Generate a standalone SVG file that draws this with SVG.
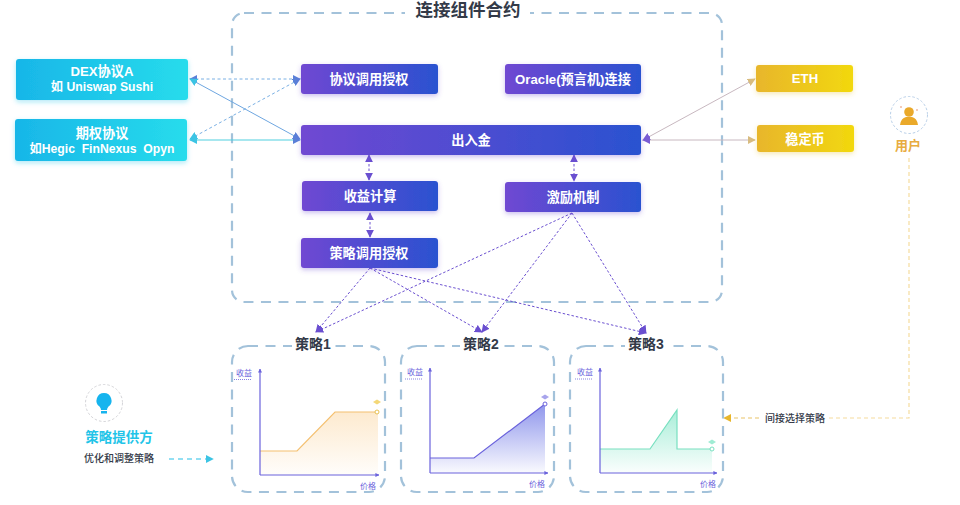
<svg xmlns="http://www.w3.org/2000/svg" width="960" height="505" viewBox="0 0 960 505">
<defs>
<linearGradient id="gp" x1="0" x2="1" y1="0" y2="0"><stop offset="0" stop-color="#7048d2"/><stop offset="1" stop-color="#2a52d0"/></linearGradient>
<linearGradient id="gc" x1="0" x2="1" y1="0" y2="0"><stop offset="0" stop-color="#18b6e8"/><stop offset="1" stop-color="#27dcec"/></linearGradient>
<linearGradient id="gy" x1="0" x2="1" y1="0" y2="0"><stop offset="0" stop-color="#e8b62c"/><stop offset="1" stop-color="#f2d80e"/></linearGradient>
<linearGradient id="fo" x1="0" x2="0" y1="0" y2="1"><stop offset="0" stop-color="#fbd9a8" stop-opacity=".55"/><stop offset="1" stop-color="#fbd9a8" stop-opacity=".05"/></linearGradient>
<linearGradient id="fb" x1="0" x2="0" y1="0" y2="1"><stop offset="0" stop-color="#8f96ec"/><stop offset="1" stop-color="#8f96ec" stop-opacity=".05"/></linearGradient>
<linearGradient id="fg" x1="0" x2="0" y1="0" y2="1"><stop offset="0" stop-color="#8ce8cc" stop-opacity=".75"/><stop offset="1" stop-color="#8ce8cc" stop-opacity=".04"/></linearGradient>
<filter id="sp" x="-10%" y="-30%" width="120%" height="170%"><feDropShadow dx="0" dy="2" stdDeviation="2.500" flood-color="#6a4cd0" flood-opacity=".35"/></filter>
<filter id="sc" x="-10%" y="-30%" width="120%" height="170%"><feDropShadow dx="0" dy="2" stdDeviation="2.500" flood-color="#20c0e8" flood-opacity=".35"/></filter>
<filter id="sy" x="-10%" y="-30%" width="120%" height="170%"><feDropShadow dx="0" dy="2" stdDeviation="2.500" flood-color="#e8c030" flood-opacity=".35"/></filter>
<marker id="mp" viewBox="0 0 10 10" refX="9" refY="5" markerWidth="8" markerHeight="8" markerUnits="userSpaceOnUse" orient="auto-start-reverse"><path d="M0 0L10 5L0 10z" fill="#6a4fd0"/></marker>
<marker id="mb" viewBox="0 0 10 10" refX="9" refY="5" markerWidth="8" markerHeight="8" markerUnits="userSpaceOnUse" orient="auto-start-reverse"><path d="M0 0L10 5L0 10z" fill="#5a80d8"/></marker>
<marker id="mt" viewBox="0 0 10 10" refX="9" refY="5" markerWidth="8" markerHeight="8" markerUnits="userSpaceOnUse" orient="auto-start-reverse"><path d="M0 0L10 5L0 10z" fill="#3cc4e4"/></marker>
<marker id="mo" viewBox="0 0 10 10" refX="9" refY="5" markerWidth="8" markerHeight="8" markerUnits="userSpaceOnUse" orient="auto-start-reverse"><path d="M0 0L10 5L0 10z" fill="#d8bc80"/></marker>
<marker id="mv" viewBox="0 0 10 10" refX="9" refY="5" markerWidth="8" markerHeight="8" markerUnits="userSpaceOnUse" orient="auto-start-reverse"><path d="M0 0L10 5L0 10z" fill="#7a5cd4"/></marker>
<marker id="my" viewBox="0 0 10 10" refX="9" refY="5" markerWidth="8" markerHeight="8" markerUnits="userSpaceOnUse" orient="auto-start-reverse"><path d="M0 0L10 5L0 10z" fill="#e8b62c"/></marker>
<marker id="ma" viewBox="0 0 10 10" refX="9" refY="5" markerWidth="4" markerHeight="4" markerUnits="userSpaceOnUse" orient="auto"><path d="M0 0L10 5L0 10z" fill="#6a62dc"/></marker>
</defs>
<style>
text{font-family:"Liberation Sans","Noto Sans CJK SC",sans-serif;white-space:pre}
.w{fill:#fff;font-weight:700;text-anchor:middle;font-size:13.2px}
.w2{fill:#fff;font-weight:700;text-anchor:middle;font-size:12.2px}
.fr{fill:none;stroke:#a3c2da;stroke-width:2.200;stroke-dasharray:10 7.500}
.t{fill:#333a48;font-weight:700;text-anchor:middle;font-size:14px}
.ax{fill:none;stroke:#6a62dc;stroke-width:1.200;marker-end:url(#ma)}
.lb{fill:#6a62dc;font-size:8px;text-anchor:middle}
.sm{fill:#333a48;font-size:10px;font-weight:500;text-anchor:middle}
.d{fill:none;stroke:#6a4fd0;stroke-width:1;stroke-dasharray:2.500 2}
</style>
<g id="frame-main">
<rect class="fr" x="232" y="13" width="490" height="289" rx="12"/>
<rect x="405" y="0" width="125" height="24" fill="#fff"/>
<text x="468" y="16" text-anchor="middle" font-size="17.500" font-weight="700" fill="#333a48">连接组件合约</text>
</g>
<g id="connectors">
<path d="M190 79H300" fill="none" stroke="#7ab0e4" stroke-width="1" stroke-dasharray="3 2.500" marker-start="url(#mb)" marker-end="url(#mb)"/>
<path d="M190 139L300 79" fill="none" stroke="#7ab0e4" stroke-width="1" stroke-dasharray="3 2.500" marker-start="url(#mt)" marker-end="url(#mb)"/>
<path d="M190 79L300 139" fill="none" stroke="#6ea6e0" stroke-width="1" marker-start="url(#mt)" marker-end="url(#mb)"/>
<path d="M190 140H300" fill="none" stroke="#50cfe0" stroke-width="1.200" marker-start="url(#mt)" marker-end="url(#mb)"/>
<path d="M643 140L755 79" fill="none" stroke="#c8b8c0" stroke-width="1" marker-start="url(#mv)" marker-end="url(#mo)"/>
<path d="M643 140H755" fill="none" stroke="#c8b8c0" stroke-width="1" marker-start="url(#mv)" marker-end="url(#mo)"/>
<path class="d" d="M369 155V180" marker-start="url(#mp)" marker-end="url(#mp)"/>
<path class="d" d="M574 155V181" marker-start="url(#mp)" marker-end="url(#mp)"/>
<path class="d" d="M370 213V237" marker-start="url(#mp)" marker-end="url(#mp)"/>
<path class="d" d="M370 268L316 332" marker-end="url(#mp)"/>
<path class="d" d="M370 268L482 332" marker-end="url(#mp)"/>
<path class="d" d="M370 268L646 333" marker-end="url(#mp)"/>
<path class="d" d="M572 213L316 332" marker-end="url(#mp)"/>
<path class="d" d="M572 213L482 332" marker-end="url(#mp)"/>
<path class="d" d="M572 213L646 333" marker-end="url(#mp)"/>
<path d="M169 459H213" fill="none" stroke="#26c0e8" stroke-width="1.200" stroke-dasharray="5 4" marker-end="url(#mt)"/>
<path d="M909 158V418H827" fill="none" stroke="#f5dc9e" stroke-width="1.200" stroke-dasharray="4 3"/>
<path d="M759 418H724" fill="none" stroke="#eac468" stroke-width="1.200" stroke-dasharray="4 3" marker-end="url(#my)"/>
</g>
<g id="dex"><rect x="16" y="59" width="172" height="41" rx="3" fill="url(#gc)" filter="url(#sc)"/><text class="w" x="102" y="76">DEX协议A</text><text class="w2" x="102" y="91">如 Uniswap Sushi</text></g>
<g id="options"><rect x="15" y="119" width="172" height="42" rx="3" fill="url(#gc)" filter="url(#sc)"/><text class="w" x="102" y="138">期权协议</text><text class="w2" x="102" y="153">如Hegic  FinNexus  Opyn</text></g>
<g id="auth"><rect x="301" y="64" width="137" height="30" rx="3" fill="url(#gp)" filter="url(#sp)"/><text class="w" x="369" y="84">协议调用授权</text></g>
<g id="oracle"><rect x="505" y="64" width="136" height="30" rx="3" fill="url(#gp)" filter="url(#sp)"/><text class="w" x="573" y="84">Oracle(预言机)连接</text></g>
<g id="inout"><rect x="301" y="125" width="340" height="30" rx="3" fill="url(#gp)" filter="url(#sp)"/><text class="w" x="471" y="145">出入金</text></g>
<g id="yield"><rect x="302" y="181" width="136" height="30" rx="3" fill="url(#gp)" filter="url(#sp)"/><text class="w" x="370" y="201">收益计算</text></g>
<g id="incentive"><rect x="505" y="182" width="136" height="30" rx="3" fill="url(#gp)" filter="url(#sp)"/><text class="w" x="573" y="202">激励机制</text></g>
<g id="strategy-auth"><rect x="301" y="238" width="137" height="30" rx="3" fill="url(#gp)" filter="url(#sp)"/><text class="w" x="369" y="258">策略调用授权</text></g>
<g id="eth"><rect x="756" y="65" width="97" height="27" rx="3" fill="url(#gy)" filter="url(#sy)"/><text class="w" x="805" y="83">ETH</text></g>
<g id="stable"><rect x="757" y="125" width="97" height="27" rx="3" fill="url(#gy)" filter="url(#sy)"/><text class="w" x="805" y="144">稳定币</text></g>
<g id="user">
<circle cx="909" cy="115" r="18.500" fill="#fff" stroke="#b8cfe8" stroke-width="1" stroke-dasharray="2.500 2"/>
<circle cx="909" cy="112" r="4.800" fill="#eaa92a"/><path d="M900 125Q901 118 906 117H912Q917 118 918 125z" fill="#eaa92a"/>
<circle cx="901" cy="107" r="1" fill="#f0b8a0"/><circle cx="917" cy="110" r="1" fill="#f0b8a0"/>
<text x="908" y="150" text-anchor="middle" font-size="13" font-weight="700" fill="#e8ac40">用户</text>
</g>
<text class="sm" x="795" y="422">间接选择策略</text>
<g id="provider">
<circle cx="104" cy="403" r="18.500" fill="#fff" stroke="#d4d4d8" stroke-width="1" stroke-dasharray="2.500 2"/>
<path d="M104 393a7.500 7.500 0 0 1 4.500 13.500q-1.500 1.500-1.500 3.500h-6q0-2-1.500-3.500A7.500 7.500 0 0 1 104 393z" fill="#16b4ee"/><rect x="101" y="411" width="6" height="2.500" fill="#16b4ee"/>
<text x="119" y="442" text-anchor="middle" font-size="13.500" font-weight="700" fill="#22c4e8">策略提供方</text>
<text class="sm" x="119" y="462">优化和调整策略</text>
</g>
<g id="strategy1">
<rect class="fr" x="232" y="346" width="153" height="146" rx="16"/>
<rect x="292" y="336" width="42" height="20" fill="#fff"/>
<text class="t" x="313" y="349">策略1</text>
<path d="M260 451H297L335 412H378V475H260z" fill="url(#fo)"/>
<path d="M260 451H297L335 412H377" fill="none" stroke="#f4c070" stroke-width="1.200"/>
<path class="ax" d="M260 475V369"/><path class="ax" d="M260 475H379"/>
<circle cx="377" cy="412" r="2" fill="#fff" stroke="#e8c050"/><path d="M373 402l4-2.500 4 2.500-4 2.500z" fill="#f4d878"/>
<text class="lb" x="244" y="376">收益</text><path d="M234 379.500H252" stroke="#6a62dc" stroke-width=".8" stroke-dasharray="1 1"/>
<text class="lb" x="368" y="489">价格</text>
</g>
<g id="strategy2">
<rect class="fr" x="401" y="346" width="153" height="146" rx="16"/>
<rect x="460" y="336" width="42" height="20" fill="#fff"/>
<text class="t" x="481" y="349">策略2</text>
<path d="M430 458H474L545 404V473H430z" fill="url(#fb)"/>
<path d="M430 458H474L545 404" fill="none" stroke="#6a62dc" stroke-width="1.200"/>
<path class="ax" d="M430 473V368"/><path class="ax" d="M430 473H548"/>
<circle cx="545" cy="404" r="2" fill="#fff" stroke="#6a62dc"/><path d="M541 397l4-2.500 4 2.500-4 2.500z" fill="#a8a4ec"/>
<text class="lb" x="415" y="375">收益</text><path d="M405 379H423" stroke="#6a62dc" stroke-width=".8" stroke-dasharray="1 1"/>
<text class="lb" x="537" y="487">价格</text>
</g>
<g id="strategy3">
<rect class="fr" x="570" y="346" width="153" height="146" rx="16"/>
<rect x="625" y="336" width="42" height="20" fill="#fff"/>
<text class="t" x="646" y="349">策略3</text>
<path d="M600 449H650L677 410V449H712V473H600z" fill="url(#fg)"/>
<path d="M600 449H650L677 410V449H712" fill="none" stroke="#78e0c0" stroke-width="1.200"/>
<path class="ax" d="M600 473V368"/><path class="ax" d="M600 473H717"/>
<circle cx="712" cy="449" r="2" fill="#fff" stroke="#78e0c0"/><path d="M708 442l4-2.500 4 2.500-4 2.500z" fill="#a0ecd4"/>
<text class="lb" x="585" y="375">收益</text><path d="M575 379H592" stroke="#6a62dc" stroke-width=".8" stroke-dasharray="1 1"/>
<text class="lb" x="708" y="487">价格</text>
</g>
</svg>
